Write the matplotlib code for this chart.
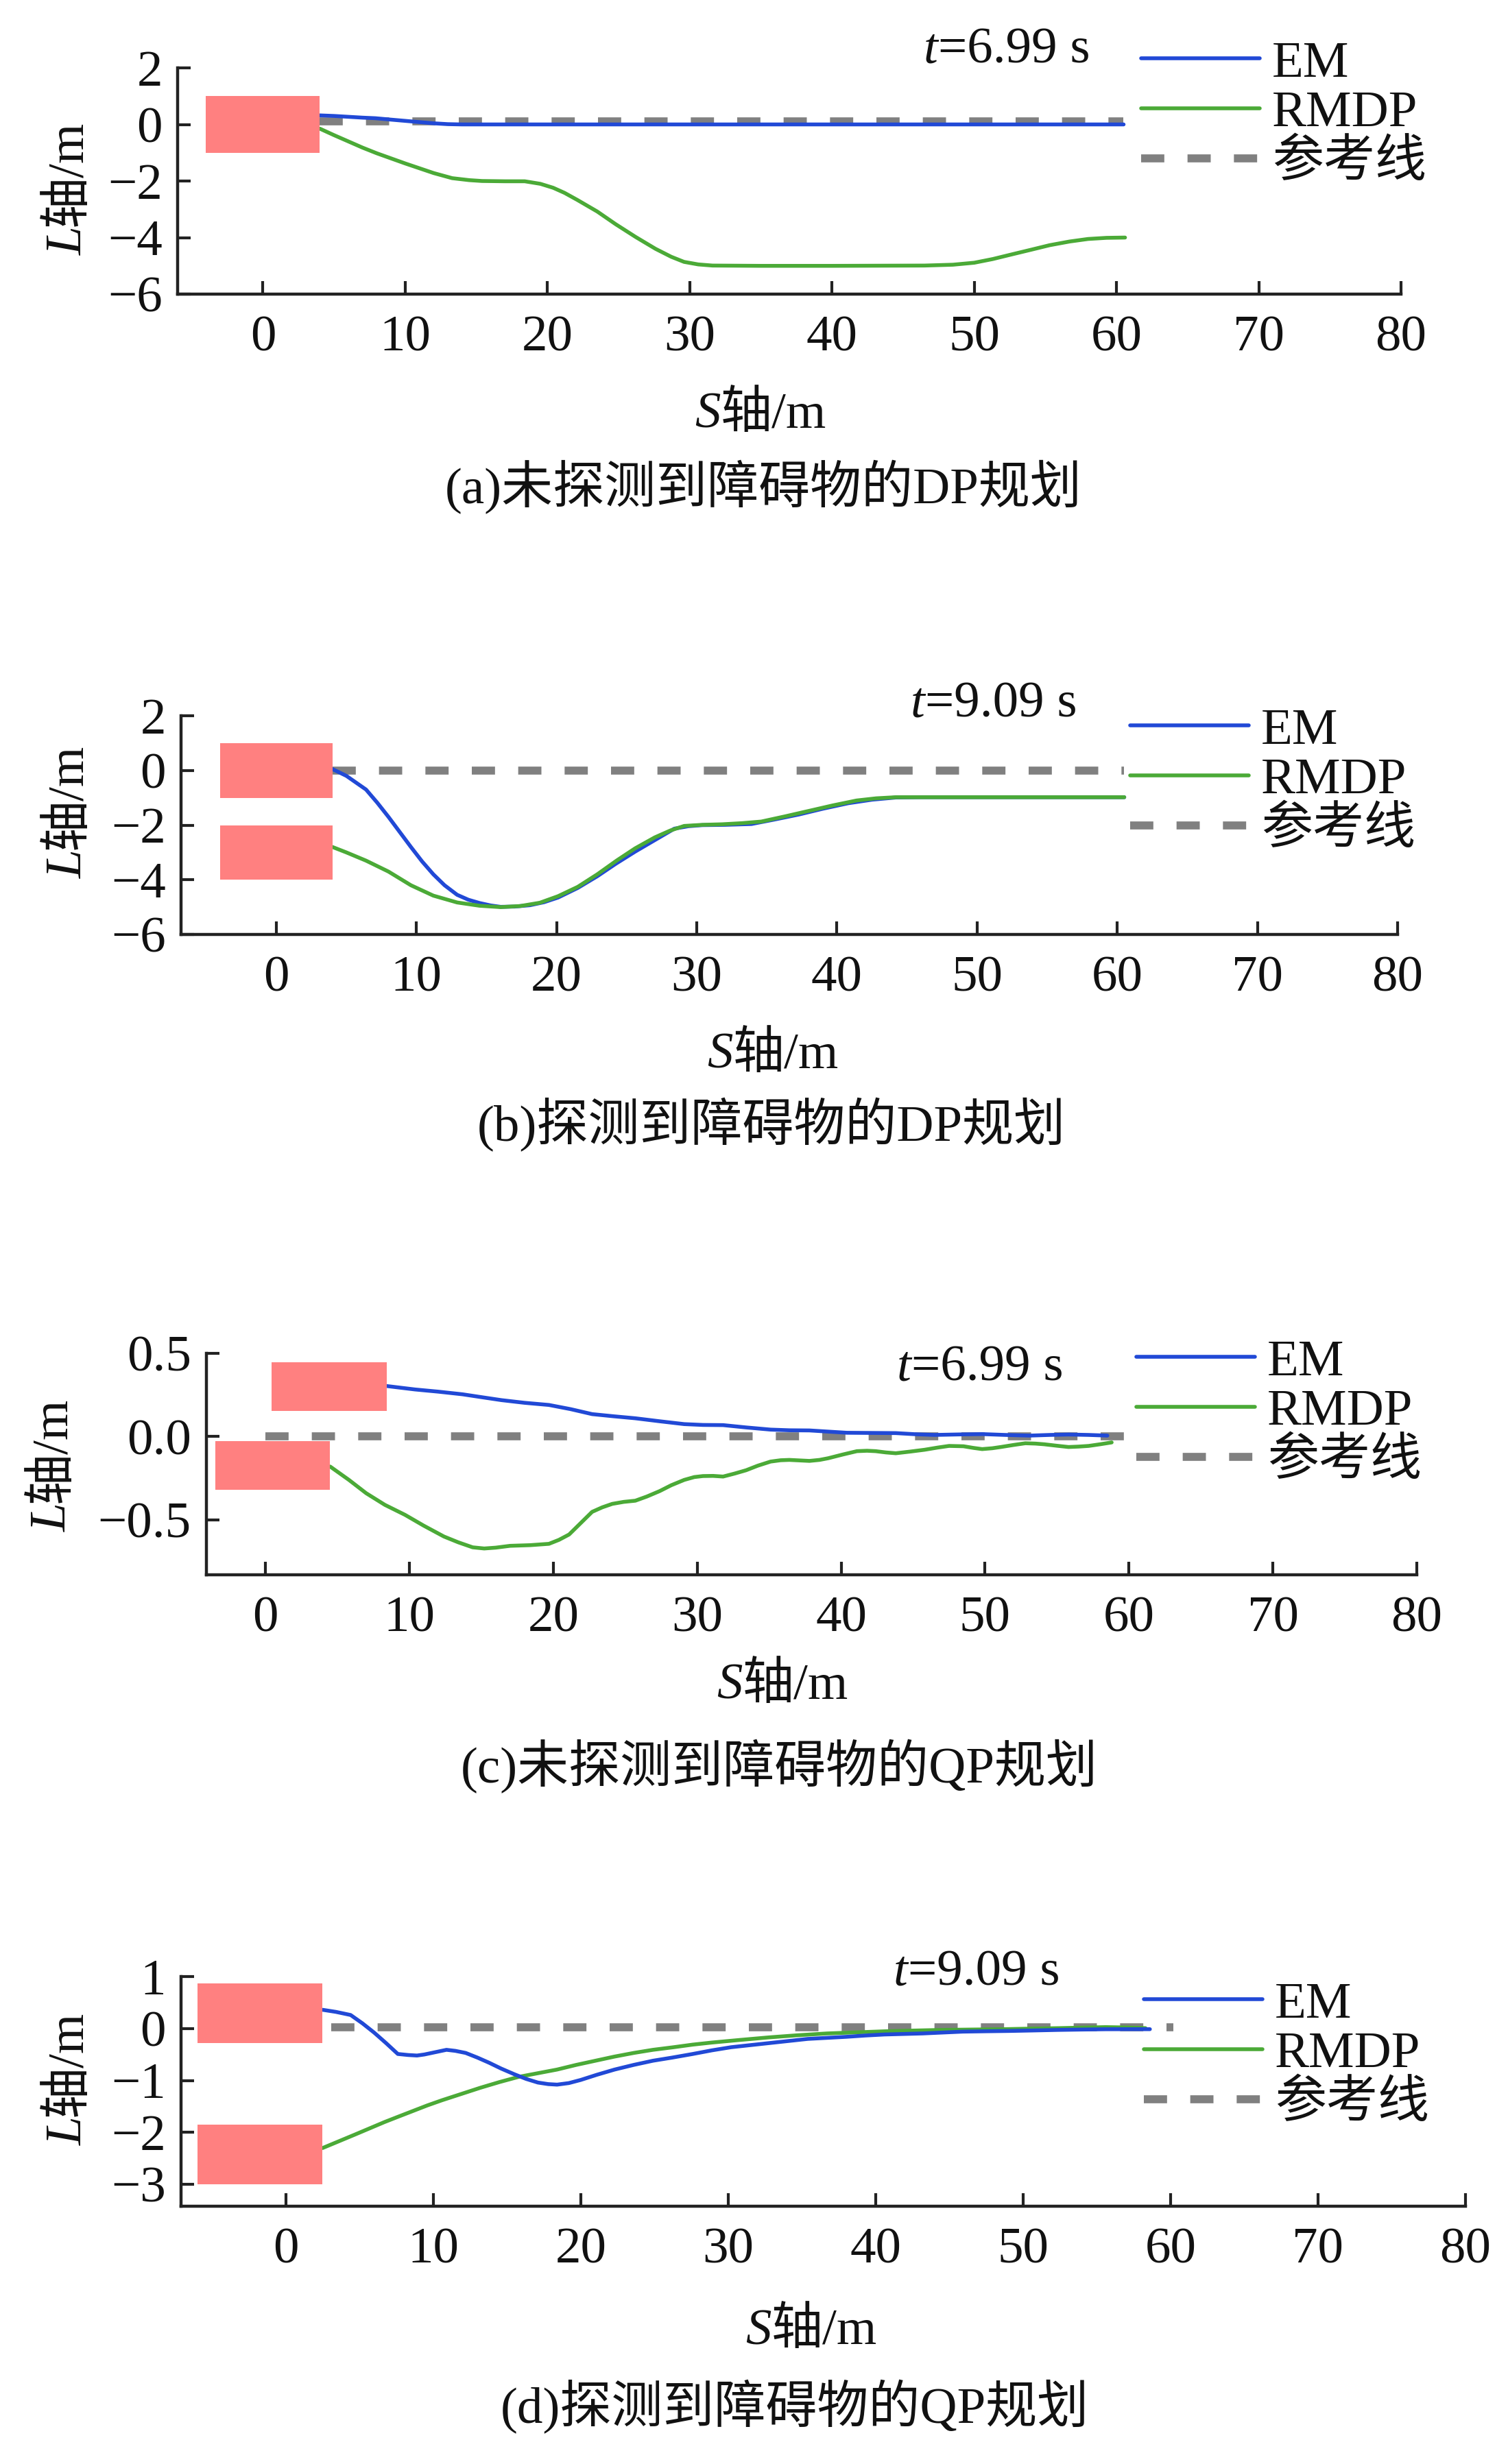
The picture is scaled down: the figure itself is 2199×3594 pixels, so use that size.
import matplotlib
matplotlib.use("Agg")
import matplotlib.pyplot as plt
from matplotlib.patches import Rectangle
from matplotlib.lines import Line2D

plt.rcParams['font.family'] = ['Liberation Serif', 'Noto Sans CJK SC', 'DejaVu Sans']
plt.rcParams['axes.unicode_minus'] = True

# ---------------- data ----------------
xticks = [0, 10, 20, 30, 40, 50, 60, 70, 80]

# (a) DP, obstacle not detected
a_em_s = [4, 5, 6, 7, 7.9, 9, 10.6, 12, 13, 14, 20, 30, 40, 50, 60.5]
a_em_l = [0.32, 0.3, 0.27, 0.24, 0.22, 0.17, 0.1, 0.04, 0.01, 0.0, 0, 0, 0, 0, 0]
a_rm_s = [4, 5, 6, 7, 8, 9, 10, 11, 12, 13.3, 14.5, 15.4, 17, 18.4, 19.5, 20.4, 21.2, 22.1, 23.5,
          24.8, 26.2, 27.6, 28.7, 29.6, 30.6, 31.6, 35, 40, 46.5, 48.5, 50, 51.3, 52.6, 54,
          55.3, 56.7, 58, 59.3, 60.6]
a_rm_l = [-0.15, -0.38, -0.6, -0.82, -1.02, -1.2, -1.38, -1.55, -1.72, -1.9, -1.97, -2.0, -2.01,
          -2.01, -2.1, -2.24, -2.42, -2.67, -3.08, -3.53, -3.98, -4.4, -4.68, -4.86, -4.95, -4.99,
          -5.0, -5.0, -4.99, -4.96, -4.89, -4.76, -4.6, -4.43, -4.27, -4.14, -4.05, -4.01, -4.0]
a_ref_s = [4, 60.5]
a_ref_l = [0.1, 0.1]
a_rects = [(-4, -1, 8, 2)]

# (b) DP, obstacle detected
b_em_s = [4, 5, 6.4, 7.2, 8.0, 8.8, 9.6, 10.4, 11.2, 12.0, 12.9, 13.7, 14.5, 15.3, 16, 17, 18.1,
          19.1, 20.1, 21.5, 22.9, 24.2, 25.6, 27, 28.4, 29.4, 30.4, 32, 33.9, 35.5, 37.3, 39,
          40.8, 42.5, 44.2, 46, 50, 55, 60.5]
b_em_l = [0.05, -0.2, -0.7, -1.18, -1.7, -2.25, -2.8, -3.33, -3.8, -4.2, -4.55, -4.73, -4.85,
          -4.94, -4.99, -4.98, -4.93, -4.82, -4.65, -4.3, -3.87, -3.42, -2.97, -2.55, -2.13,
          -2.04, -2.0, -1.99, -1.96, -1.8, -1.61, -1.4, -1.2, -1.07, -0.99, -0.98, -0.98, -0.98, -0.98]
b_rm_s = [4, 5, 6.4, 8.0, 9.6, 11.2, 12.9, 14.5, 16, 17.4, 18.8, 20.1, 21.5, 22.9, 24.3, 25.6,
          27, 28.1, 29.1, 30.4, 31.8, 33.2, 34.6, 36.3, 38, 39.7, 41.4, 42.8, 44.2, 46, 50, 55, 60.5]
b_rm_l = [-2.8, -3.0, -3.3, -3.7, -4.2, -4.58, -4.83, -4.95, -5.0, -4.96, -4.84, -4.6, -4.26,
          -3.8, -3.29, -2.85, -2.45, -2.2, -2.03, -1.99, -1.97, -1.93, -1.87, -1.68, -1.48,
          -1.28, -1.1, -1.02, -0.98, -0.98, -0.98, -0.98, -0.98]
b_ref_s = [4, 60.5]
b_ref_l = [0, 0]
b_rects = [(-4, -1, 8, 2), (-4, -4, 8, 2)]

# (c) QP, obstacle not detected
c_em_s = [8.4, 10.4, 12, 13.7, 15, 16.4, 18, 19.7, 21.2, 22.7, 24.2, 25.7, 27.4, 29.1, 30.4,
          31.8, 33.4, 35.1, 36.4, 37.8, 39.1, 40.4, 42.1, 43.8, 45.2, 46.5, 48.2, 49.8, 51.4,
          53.1, 54.5, 55.8, 57.2, 58.5]
c_em_l = [0.304, 0.283, 0.27, 0.254, 0.237, 0.219, 0.203, 0.19, 0.165, 0.135, 0.122, 0.11,
          0.092, 0.075, 0.07, 0.069, 0.055, 0.042, 0.038, 0.037, 0.03, 0.023, 0.022, 0.021,
          0.014, 0.01, 0.013, 0.015, 0.01, 0.006, 0.01, 0.0125, 0.01, 0.006]
c_rm_s = [4.5, 5.8, 7.0, 8.3, 9.7, 11.0, 12.4, 13.4, 14.4, 15.2, 16, 17, 18.4, 19.7, 20.4, 21.1,
          21.9, 22.7, 23.4, 24.1, 24.9, 25.7, 26.5, 27.4, 28.2, 29.1, 29.8, 30.4, 31.1, 31.8,
          32.6, 33.4, 34.2, 35.1, 35.8, 36.4, 37.1, 37.8, 38.5, 39.1, 40.1, 41.1, 41.8, 42.4,
          43.1, 43.8, 44.8, 45.8, 46.7, 47.5, 48.5, 49.2, 49.8, 50.5, 51.1, 52.0, 52.8, 53.5,
          54.1, 55.0, 55.8, 56.5, 57.2, 58.0, 58.8]
c_rm_l = [-0.18, -0.26, -0.34, -0.41, -0.47, -0.535, -0.6, -0.635, -0.665, -0.672, -0.667,
          -0.656, -0.652, -0.644, -0.62, -0.588, -0.52, -0.452, -0.425, -0.404, -0.392, -0.385,
          -0.36, -0.327, -0.292, -0.26, -0.243, -0.237, -0.236, -0.24, -0.222, -0.202, -0.175,
          -0.15, -0.142, -0.14, -0.143, -0.146, -0.14, -0.13, -0.108, -0.0875, -0.085, -0.0875,
          -0.095, -0.1, -0.09, -0.079, -0.066, -0.056, -0.058, -0.068, -0.075, -0.07, -0.0625,
          -0.05, -0.04, -0.042, -0.046, -0.055, -0.0625, -0.06, -0.056, -0.046, -0.035]
c_ref_s = [0, 60]
c_ref_l = [0, 0]
c_rects = [(0.45, 0.155, 8.0, 0.29), (-3.5, -0.32, 8.0, 0.295)]

# (d) QP, obstacle detected
d_em_s = [2.5, 3.4, 4.4, 5.2, 6.0, 6.8, 7.6, 8.3, 8.9, 9.4, 9.9, 10.4, 10.9, 11.5, 12.2, 13.0,
          13.8, 14.6, 15.5, 16.3, 17.1, 17.8, 18.4, 19.2, 20, 21.1, 22.3, 23.6, 24.9, 26.2,
          27.6, 28.9, 30.2, 31.5, 32.8, 34.1, 35.4, 36.7, 38, 39.3, 40.6, 41.9, 43.2, 44.5,
          45.9, 47.5, 49.1, 50.8, 52.4, 54, 55.6, 57.1, 58.6]
d_em_l = [0.36, 0.32, 0.26, 0.1, -0.08, -0.28, -0.49, -0.51, -0.52, -0.5, -0.47, -0.44, -0.41,
          -0.43, -0.47, -0.56, -0.66, -0.77, -0.88, -0.97, -1.04, -1.07, -1.08, -1.05, -0.99,
          -0.89, -0.79, -0.7, -0.62, -0.56, -0.49, -0.42, -0.36, -0.32, -0.28, -0.24, -0.2,
          -0.18, -0.16, -0.135, -0.115, -0.105, -0.095, -0.078, -0.06, -0.053, -0.047, -0.037,
          -0.027, -0.02, -0.014, -0.013, -0.013]
d_rm_s = [2.5, 3.6, 4.7, 5.7, 6.7, 7.6, 8.6, 9.6, 10.6, 11.9, 13.2, 14.5, 15.8, 17.1, 18.4,
          19.7, 21, 22.3, 23.6, 24.9, 26.3, 27.6, 28.9, 30.8, 32.8, 34.7, 36.7, 38.6, 40.6,
          42.5, 44.5, 46.5, 48.5, 50.4, 52.4, 54, 55.6, 57, 58.3]
d_rm_l = [-2.3, -2.17, -2.04, -1.92, -1.8, -1.7, -1.59, -1.48, -1.38, -1.26, -1.14, -1.03,
          -0.93, -0.86, -0.79, -0.7, -0.62, -0.54, -0.47, -0.41, -0.36, -0.31, -0.27, -0.22,
          -0.17, -0.13, -0.095, -0.075, -0.054, -0.04, -0.027, -0.02, -0.014, -0.003, 0.007,
          0.017, 0.027, 0.02, 0.007]
d_ref_s = [3.1, 60.2]
d_ref_l = [0.03, 0.03]
d_rects = [(-6, -0.28, 8.5, 1.15), (-6, -3.0, 8.5, 1.15)]

legend_labels = ['EM', 'RMDP', '参考线']
captions = ['(a)未探测到障碍物的DP规划', '(b)探测到障碍物的DP规划',
            '(c)未探测到障碍物的QP规划', '(d)探测到障碍物的QP规划']
time_labels = ['=6.99 s', '=9.09 s', '=6.99 s', '=9.09 s']

# ---------------- style ----------------
W, H = 2199, 3594
FS = 54
C_EM = '#2149D6'
C_RM = '#4BAA37'
C_REF = '#808080'
C_OBS = '#FF8080'
SERIF = ['Liberation Serif', 'Noto Sans CJK SC']
LW = 4.0
LW_REF = 8.4
DASH = (2.9, 2.9)

fig = plt.figure(figsize=(W / 100, H / 100), dpi=100)


def fx(x):
    return x / W


def fy(y):
    return 1 - y / H


panels = [
    dict(box=(259, 2043, 99, 429), xlim=(-6, 80), ylim=(-6, 2), yt=[-6, -4, -2, 0, 2], ytl=None,
         ylab=(92, 330), xlab=(1051, 597), cap=(1113, 711), tt=(1368, 64), leg=(1664, 166),
         em=(a_em_s, a_em_l), rm=(a_rm_s, a_rm_l), ref=(a_ref_s, a_ref_l), rects=a_rects),
    dict(box=(264, 2038, 1044, 1363), xlim=(-6.8, 80), ylim=(-6, 2), yt=[-6, -4, -2, 0, 2], ytl=None,
         ylab=(92, 1239), xlab=(1069, 1531), cap=(1125, 1641), tt=(1349, 1019), leg=(1648, 1139),
         em=(b_em_s, b_em_l), rm=(b_rm_s, b_rm_l), ref=(b_ref_s, b_ref_l), rects=b_rects),
    dict(box=(301, 2066, 1974, 2297), xlim=(-4.1, 80), ylim=(-0.83, 0.5), yt=[-0.5, 0.0, 0.5],
         ytl=['\u22120.5', '0.0', '0.5'],
         ylab=(69, 2192), xlab=(1083, 2451), cap=(1136, 2577), tt=(1329, 1987), leg=(1657, 2060),
         em=(c_em_s, c_em_l), rm=(c_rm_s, c_rm_l), ref=(c_ref_s, c_ref_l), rects=c_rects),
    dict(box=(264, 2137, 2883, 3218), xlim=(-7.1, 80), ylim=(-3.42, 1), yt=[-3, -2, -1, 0, 1], ytl=None,
         ylab=(92, 3087), xlab=(1125, 3392), cap=(1159, 3511), tt=(1324, 2869), leg=(1668, 2997),
         em=(d_em_s, d_em_l), rm=(d_rm_s, d_rm_l), ref=(d_ref_s, d_ref_l), rects=d_rects),
]

for i, p in enumerate(panels):
    left, right, top, bottom = p['box']
    ax = fig.add_axes([fx(left), fy(bottom), (right - left) / W, (bottom - top) / H])
    for sp in ['top', 'right']:
        ax.spines[sp].set_visible(False)
    for sp in ['left', 'bottom']:
        ax.spines[sp].set_linewidth(3.2)
        ax.spines[sp].set_color('#222222')
    ax.set_xlim(*p['xlim'])
    ax.set_ylim(*p['ylim'])
    ax.set_xticks(xticks)
    ax.set_yticks(p['yt'])
    if p['ytl'] is not None:
        ax.set_yticklabels(p['ytl'])
    ax.tick_params(axis='both', direction='in', length=14, width=3.0, color='#222222',
                   labelsize=FS, labelcolor='#111111')
    ax.tick_params(axis='x', pad=22)
    ax.tick_params(axis='y', pad=16)
    for lab in ax.get_xticklabels() + ax.get_yticklabels():
        lab.set_family(SERIF)

    ax.plot(p['ref'][0], p['ref'][1], color=C_REF, lw=LW_REF,
            dashes=DASH, solid_capstyle='butt', dash_capstyle='butt', zorder=2)
    em_line, = ax.plot(p['em'][0], p['em'][1], color=C_EM, lw=LW, zorder=3,
                       solid_capstyle='round')
    ax.plot(p['rm'][0], p['rm'][1], color=C_RM, lw=LW, zorder=3, solid_capstyle='round')
    if i in (2, 3):
        em_line.set_zorder(3.5)
    for (rx, ry, rw, rh) in p['rects']:
        ax.add_patch(Rectangle((rx, ry), rw, rh, facecolor=C_OBS, edgecolor='none', zorder=4))

    # legend
    lx, ly = p['leg']
    h_em = Line2D([], [], color=C_EM, lw=LW, solid_capstyle='round')
    h_rm = Line2D([], [], color=C_RM, lw=LW, solid_capstyle='round')
    h_ref = Line2D([], [], color=C_REF, lw=LW_REF, dashes=DASH, dash_capstyle='butt')
    leg = ax.legend([h_em, h_rm, h_ref], legend_labels, loc='center left',
                    bbox_to_anchor=(fx(lx), fy(ly)), bbox_transform=fig.transFigure,
                    frameon=False, handlelength=2.3, handletextpad=0.25, borderpad=0,
                    borderaxespad=0, labelspacing=0.05,
                    prop=dict(family=SERIF, size=FS))
    for t in leg.get_texts():
        t.set_color('#111111')

    # time annotation
    tx, ty = p['tt']
    fig.text(fx(tx), fy(ty + 27), 't', ha='right', va='baseline', fontsize=FS,
             family=SERIF, style='italic', color='#111111')
    fig.text(fx(tx), fy(ty + 27), time_labels[i], ha='left', va='baseline', fontsize=FS,
             family=SERIF, color='#111111')

    # x label
    xx, xy = p['xlab']
    fig.text(fx(xx), fy(xy + 27), 'S', ha='right', va='baseline', fontsize=FS,
             family=SERIF, style='italic', color='#111111')
    fig.text(fx(xx), fy(xy + 27), '轴/m', ha='left', va='baseline', fontsize=FS,
             family=SERIF, color='#111111')

    # y label (rotated)
    yx, yy = p['ylab']
    fig.text(fx(yx + 27), fy(yy), 'L', rotation=90, rotation_mode='anchor', ha='right',
             va='baseline', fontsize=FS, family=SERIF, style='italic', color='#111111')
    fig.text(fx(yx + 27), fy(yy), '轴/m', rotation=90, rotation_mode='anchor', ha='left',
             va='baseline', fontsize=FS, family=SERIF, color='#111111')

    # caption
    cx, cy = p['cap']
    fig.text(fx(cx), fy(cy), captions[i], ha='center', va='center', fontsize=FS,
             family=SERIF, color='#111111')

fig.savefig('out.png', dpi=100, facecolor='white')
